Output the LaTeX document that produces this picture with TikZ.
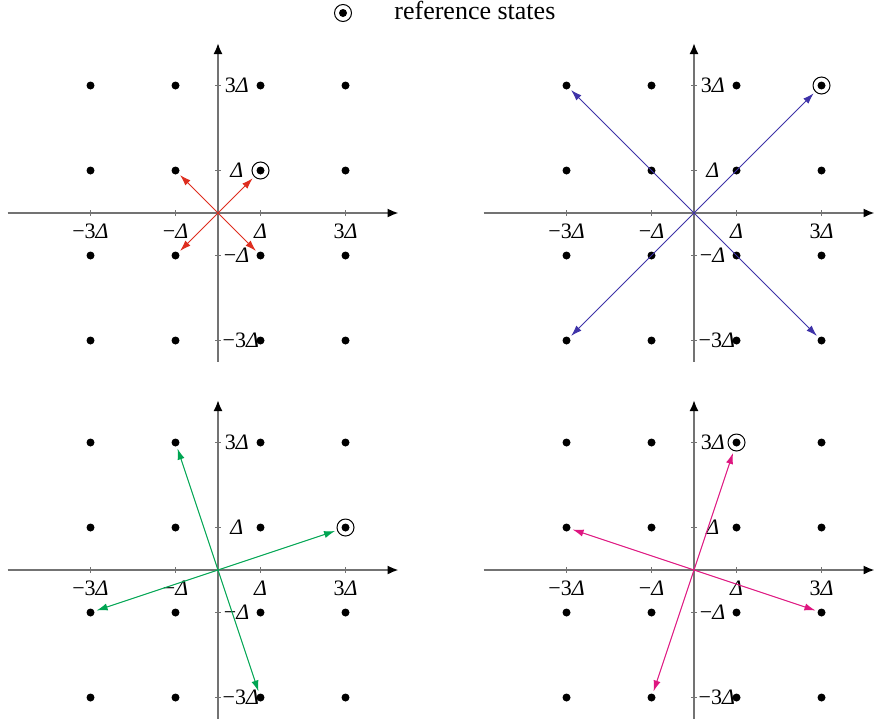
\documentclass[tikz,border=0pt]{standalone}
\usepackage{fontspec}
\setmainfont{Liberation Serif}
\usetikzlibrary{arrows.meta}

\definecolor{vecred}{RGB}{222,45,30}
\definecolor{vecblue}{RGB}{62,50,168}
\definecolor{vecgreen}{RGB}{0,165,82}
\definecolor{vecmagenta}{RGB}{222,22,128}

\tikzset{
    axis/.style={draw=black!55, line width=1pt, -{Latex[length=5.5pt, width=4.5pt, color=black]}},
    tick/.style={draw=black!55, line width=0.7pt},
    state/.style={circle, fill=black, inner sep=0pt, minimum size=4pt},
    refstate/.style={circle, draw=black, line width=0.5pt, inner sep=0pt, minimum size=8.5pt},
    vec/.style={line width=0.5pt, -{Latex[length=5.5pt, width=3.6pt]}, shorten >=1pt},
    lab/.style={inner sep=0pt, font=\fontsize{11}{13}\selectfont},
}

% axes, ticks, labels and the 16 points of one panel, named #1-i-j
\newcommand{\constellation}[1]{%
    \draw[axis] (-4.95, 0) -- (4.25, 0);
    \draw[axis] (0, -3.5) -- (0, 4);
    \foreach \k/\t in {-3/−3\textit{Δ}, -1/−\textit{Δ}, 1/\textit{Δ}, 3/3\textit{Δ}} {
        \draw[tick] (\k, -0.07) -- (\k, 0.07);
        \draw[tick] (-0.07, \k) -- (0.07, \k);
        \node[lab] at (\k, -0.42) {\t};
    }
    \foreach \k/\t/\dx in {-3/−3\textit{Δ}/0.1, -1/−\textit{Δ}/0.13, 1/\textit{Δ}/0.28, 3/3\textit{Δ}/0.15}
        \node[lab, anchor=west] at (\dx, \k) {\t};
    \coordinate (#1-o) at (0, 0);
    \foreach \i in {1,...,4}
        \foreach \j in {1,...,4}
            \node[state] (#1-\i-\j) at ({2*\i-5}, {2*\j-5}) {};
}

\begin{document}
\begin{tikzpicture}
    \useasboundingbox (0, 0) rectangle (438pt, -362pt);

    % key
    \node[state] (key) at (171.5pt, -6.5pt) {};
    \node[refstate] (keyring) at (key) {};
    \node[anchor=base west, inner sep=0pt, font=\fontsize{13}{15}\selectfont] (keytext) at (197pt, -9.5pt) {reference states};

    % top left
    \begin{scope}[shift={(109pt, -106.5pt)}, x=21.25pt, y=21.25pt]
        \constellation{tl}
        \node[refstate] (tl-ref) at (tl-3-3) {};
        \draw[vec, vecred] (tl-o) -- (tl-ref);
        \draw[vec, vecred] (tl-o) -- (tl-2-3);
        \draw[vec, vecred] (tl-o) -- (tl-2-2);
        \draw[vec, vecred] (tl-o) -- (tl-3-2);
    \end{scope}

    % top right
    \begin{scope}[shift={(347pt, -106.5pt)}, x=21.25pt, y=21.25pt]
        \constellation{tr}
        \node[refstate] (tr-ref) at (tr-4-4) {};
        \draw[vec, vecblue] (tr-o) -- (tr-ref);
        \draw[vec, vecblue] (tr-o) -- (tr-1-4);
        \draw[vec, vecblue] (tr-o) -- (tr-1-1);
        \draw[vec, vecblue] (tr-o) -- (tr-4-1);
    \end{scope}

    % bottom left
    \begin{scope}[shift={(109pt, -285pt)}, x=21.25pt, y=21.25pt]
        \constellation{bl}
        \node[refstate] (bl-ref) at (bl-4-3) {};
        \draw[vec, vecgreen] (bl-o) -- (bl-ref);
        \draw[vec, vecgreen] (bl-o) -- (bl-2-4);
        \draw[vec, vecgreen] (bl-o) -- (bl-1-2);
        \draw[vec, vecgreen] (bl-o) -- (bl-3-1);
    \end{scope}

    % bottom right
    \begin{scope}[shift={(347pt, -285pt)}, x=21.25pt, y=21.25pt]
        \constellation{br}
        \node[refstate] (br-ref) at (br-3-4) {};
        \draw[vec, vecmagenta] (br-o) -- (br-ref);
        \draw[vec, vecmagenta] (br-o) -- (br-1-3);
        \draw[vec, vecmagenta] (br-o) -- (br-4-2);
        \draw[vec, vecmagenta] (br-o) -- (br-2-1);
    \end{scope}
\end{tikzpicture}
\end{document}
